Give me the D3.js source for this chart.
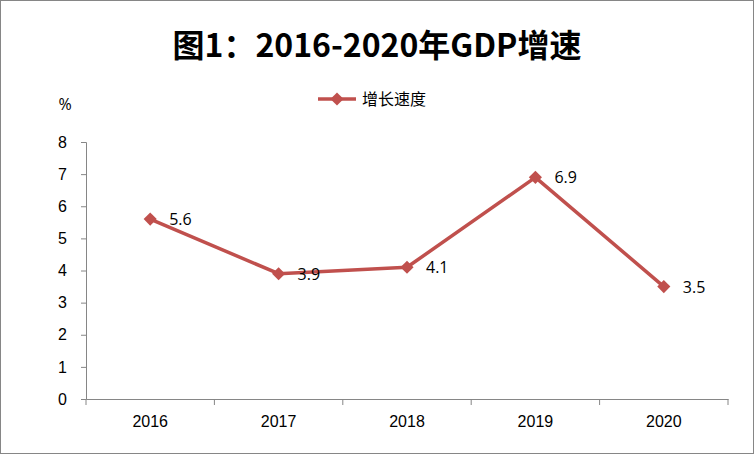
<!DOCTYPE html>
<html><head><meta charset="utf-8">
<script src="https://cdn.jsdelivr.net/npm/d3@7"></script>
<style>body{margin:0;background:#fff}</style>
</head><body>
<script>
// data
const years = ["2016", "2017", "2018", "2019", "2020"];
const growth = [5.6, 3.9, 4.1, 6.9, 3.5];
const yTicks = [0, 1, 2, 3, 4, 5, 6, 7, 8];

const W = 754, H = 454;
const svg = d3.select("body").append("svg").attr("width", W).attr("height", H)
  .style("font-family", "'Open Sans', 'Noto Sans CJK SC', sans-serif");

// outer border
svg.append("rect").attr("x", 0.5).attr("y", 0.5).attr("width", W - 1).attr("height", H - 1)
  .attr("fill", "#fff").attr("stroke", "#868686");

const x = d3.scaleBand().domain(years).range([86, 728]);
const y = d3.scaleLinear().domain([0, 8]).range([399, 142]);

// title
svg.append("text").attr("x", 377).attr("y", 57).attr("text-anchor", "middle")
  .style("font-size", "32px").style("font-weight", "bold")
  .style("font-family", "'Noto Sans CJK SC', sans-serif")
  .text("图1：2016-2020年GDP增速");

// y axis
const yAxis = svg.append("g").attr("transform", "translate(86,0)")
  .call(d3.axisLeft(y).tickValues(yTicks).tickSize(5).tickPadding(14));
yAxis.select(".domain").attr("stroke", "#868686");
yAxis.selectAll(".tick line").attr("stroke", "#868686");
yAxis.selectAll("text").style("font-size", "16px").attr("fill", "#000");

// x axis
const xAxis = svg.append("g").attr("transform", "translate(0,399)")
  .call(d3.axisBottom(x).tickSize(0).tickPadding(17).tickSizeOuter(0));
xAxis.select(".domain").attr("stroke", "#868686");
xAxis.selectAll("text").style("font-size", "16px").attr("fill", "#000");
svg.append("g").selectAll("line").data(years.concat(["end"])).join("line")
  .attr("x1", (d, i) => 86 + i * x.step()).attr("x2", (d, i) => 86 + i * x.step())
  .attr("y1", 399).attr("y2", 405).attr("stroke", "#868686");

// % label
svg.append("text").attr("x", 65).attr("y", 110).attr("text-anchor", "middle")
  .style("font-size", "16px").text("%");

const col = "#C0504D";
const cx = d => x(d) + x.bandwidth() / 2;
const pts = years.map((d, i) => [cx(d), y(growth[i])]);

svg.append("path").attr("d", d3.line()(pts)).attr("fill", "none")
  .attr("stroke", col).attr("stroke-width", 3.5).attr("stroke-linejoin", "round");

const diamond = d3.symbol().type(d3.symbolDiamond2).size(110);
svg.append("g").selectAll("path").data(pts).join("path")
  .attr("transform", d => `translate(${d[0]},${d[1]})`)
  .attr("d", diamond).attr("fill", col);

svg.append("g").selectAll("text").data(growth).join("text")
  .attr("x", (d, i) => cx(years[i]) + 19).attr("y", d => y(d) + 6)
  .style("font-size", "16px").text(d => d.toFixed(1));

// legend
svg.append("line").attr("x1", 318).attr("x2", 356).attr("y1", 99).attr("y2", 99)
  .attr("stroke", col).attr("stroke-width", 3.5);
svg.append("path").attr("transform", "translate(337,99)").attr("d", diamond).attr("fill", col);
svg.append("text").attr("x", 362).attr("y", 105).style("font-size", "16px")
  .style("font-family", "'Noto Sans CJK SC', sans-serif").text("增长速度");
</script>
</body></html>
